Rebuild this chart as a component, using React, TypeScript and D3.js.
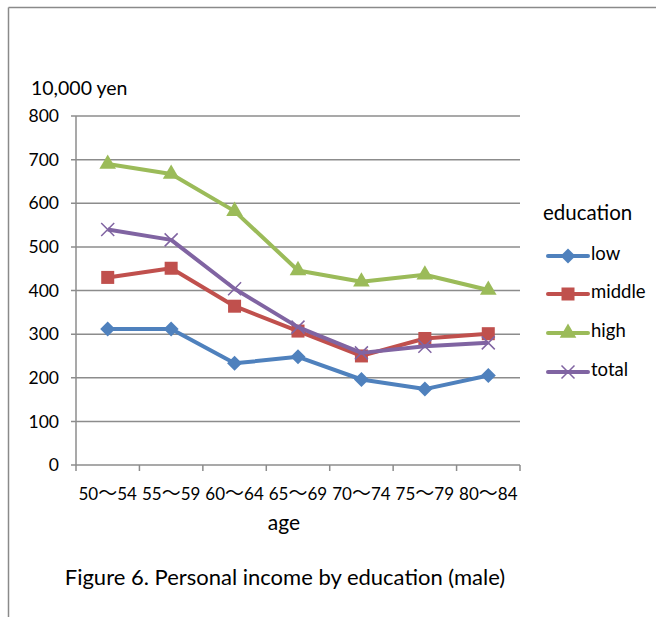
import React from "react";
import * as d3 from "d3";

const ageGroups = ["50～54", "55～59", "60～64", "65～69", "70～74", "75～79", "80～84"];
const lowValues = [312, 312, 233, 248, 196, 174, 205];
const middleValues = [430, 451, 364, 307, 250, 290, 301];
const highValues = [690, 667, 582, 446, 420, 436, 401];
const totalValues = [540, 516, 404, 316, 257, 272, 280];
const yTicks = [0, 100, 200, 300, 400, 500, 600, 700, 800];

const seriesNames = ["low", "middle", "high", "total"];
const seriesColors = ["#4F81BD", "#C0504D", "#9BBB59", "#8064A2"];
const seriesMarkers = ["diamond", "square", "triangle", "x"];

const W = 656;
const H = 617;
const plot = { left: 76, right: 520, top: 116, bottom: 465 };
const FONT = "Lato, 'Open Sans', sans-serif";
const CJK = "'Noto Sans CJK JP', sans-serif";
const GRID = "#8c8c8c";

function Marker({ kind, x, y, color }: { kind: string; x: number; y: number; color: string }) {
  if (kind === "diamond") {
    const r = 7.5;
    return <path d={`M${x},${y - r}L${x + r},${y}L${x},${y + r}L${x - r},${y}Z`} fill={color} />;
  }
  if (kind === "square") {
    const s = 13;
    return <rect x={x - s / 2} y={y - s / 2} width={s} height={s} fill={color} />;
  }
  if (kind === "triangle") {
    const s = d3.symbol(d3.symbolTriangle, 120)();
    return <path d={s as string} transform={`translate(${x},${y})`} fill={color} />;
  }
  const r = 6.5;
  return (
    <path
      d={`M${x - r},${y - r}L${x + r},${y + r}M${x - r},${y + r}L${x + r},${y - r}`}
      stroke={color}
      strokeWidth={1.5}
      fill="none"
    />
  );
}

// Age label: digits in the Latin face, the full-width wave dash in the CJK face
function AgeLabel({ label, x, y }: { label: string; x: number; y: number }) {
  const [a, b] = label.split("～");
  return (
    <text x={x} y={y} dy="0.35em" textAnchor="middle" fontSize={17} fill="#000">
      <tspan>{a}</tspan>
      <tspan fontFamily={CJK} fontSize={19}>～</tspan>
      <tspan>{b}</tspan>
    </text>
  );
}

export default function App() {
  const data = [lowValues, middleValues, highValues, totalValues];
  const x = d3.scaleBand<string>().domain(ageGroups).range([plot.left, plot.right]);
  const y = d3.scaleLinear().domain([0, 800]).range([plot.bottom, plot.top]);
  const cx = (a: string) => (x(a) as number) + x.bandwidth() / 2;
  const line = d3
    .line<number>()
    .x((_, i) => cx(ageGroups[i]))
    .y((v) => y(v));
  const tickXs = ageGroups.map((a) => x(a) as number).concat([plot.right]);

  const legendX = 548;
  const legendRows = [256, 294, 333, 372];

  return (
    <svg
      width={W}
      height={H}
      style={{ position: "absolute", left: 0, top: 0, background: "#fff" }}
      fontFamily={FONT}
    >
      <rect width={W} height={H} fill="#fff" />
      {/* chart frame */}
      <line x1={8.5} y1={7.5} x2={W} y2={7.5} stroke="#8a8a8a" strokeWidth={1.5} />
      <line x1={8.5} y1={7.5} x2={8.5} y2={H} stroke="#8a8a8a" strokeWidth={1.5} />

      {/* gridlines and y ticks */}
      {yTicks.map((t) => (
        <g key={t}>
          {t > 0 && (
            <line x1={plot.left - 5} x2={plot.right} y1={y(t)} y2={y(t)} stroke={GRID} strokeWidth={1.5} />
          )}
          <text x={59} y={y(t)} dy="0.35em" textAnchor="end" fontSize={17.5} fill="#000">
            {t}
          </text>
        </g>
      ))}
      <text x={31} y={88} dy="0.35em" fontSize={19.5} fill="#000">
        10,000 yen
      </text>

      {/* axes */}
      <line x1={plot.left} x2={plot.left} y1={plot.top} y2={plot.bottom} stroke={GRID} strokeWidth={1.5} />
      <line x1={plot.left - 5} x2={plot.right} y1={plot.bottom} y2={plot.bottom} stroke={GRID} strokeWidth={1.5} />
      {tickXs.map((tx, i) => (
        <line key={i} x1={tx} x2={tx} y1={plot.bottom} y2={plot.bottom + 6} stroke={GRID} strokeWidth={1.5} />
      ))}
      {ageGroups.map((a) => (
        <AgeLabel key={a} label={a} x={cx(a)} y={494} />
      ))}
      <text x={284} y={523} dy="0.35em" textAnchor="middle" fontSize={21} fill="#000">
        age
      </text>

      {/* series */}
      {data.map((vals, si) => (
        <g key={si}>
          <path d={line(vals) as string} fill="none" stroke={seriesColors[si]} strokeWidth={4} strokeLinejoin="round" />
          {vals.map((v, i) => (
            <Marker key={i} kind={seriesMarkers[si]} x={cx(ageGroups[i])} y={y(v)} color={seriesColors[si]} />
          ))}
        </g>
      ))}

      {/* legend */}
      <text x={543} y={213} dy="0.35em" fontSize={20.5} fill="#000">
        education
      </text>
      {seriesNames.map((n, i) => (
        <g key={n}>
          <line x1={legendX} x2={legendX + 40} y1={legendRows[i]} y2={legendRows[i]} stroke={seriesColors[i]} strokeWidth={4} strokeLinecap="round" />
          <Marker kind={seriesMarkers[i]} x={legendX + 20} y={legendRows[i]} color={seriesColors[i]} />
          <text x={591} y={legendRows[i] - 2} dy="0.35em" fontSize={18.5} fill="#000">
            {n}
          </text>
        </g>
      ))}

      <text x={285} y={577} dy="0.35em" textAnchor="middle" fontSize={22} fill="#000">
        Figure 6. Personal income by education (male)
      </text>
    </svg>
  );
}
